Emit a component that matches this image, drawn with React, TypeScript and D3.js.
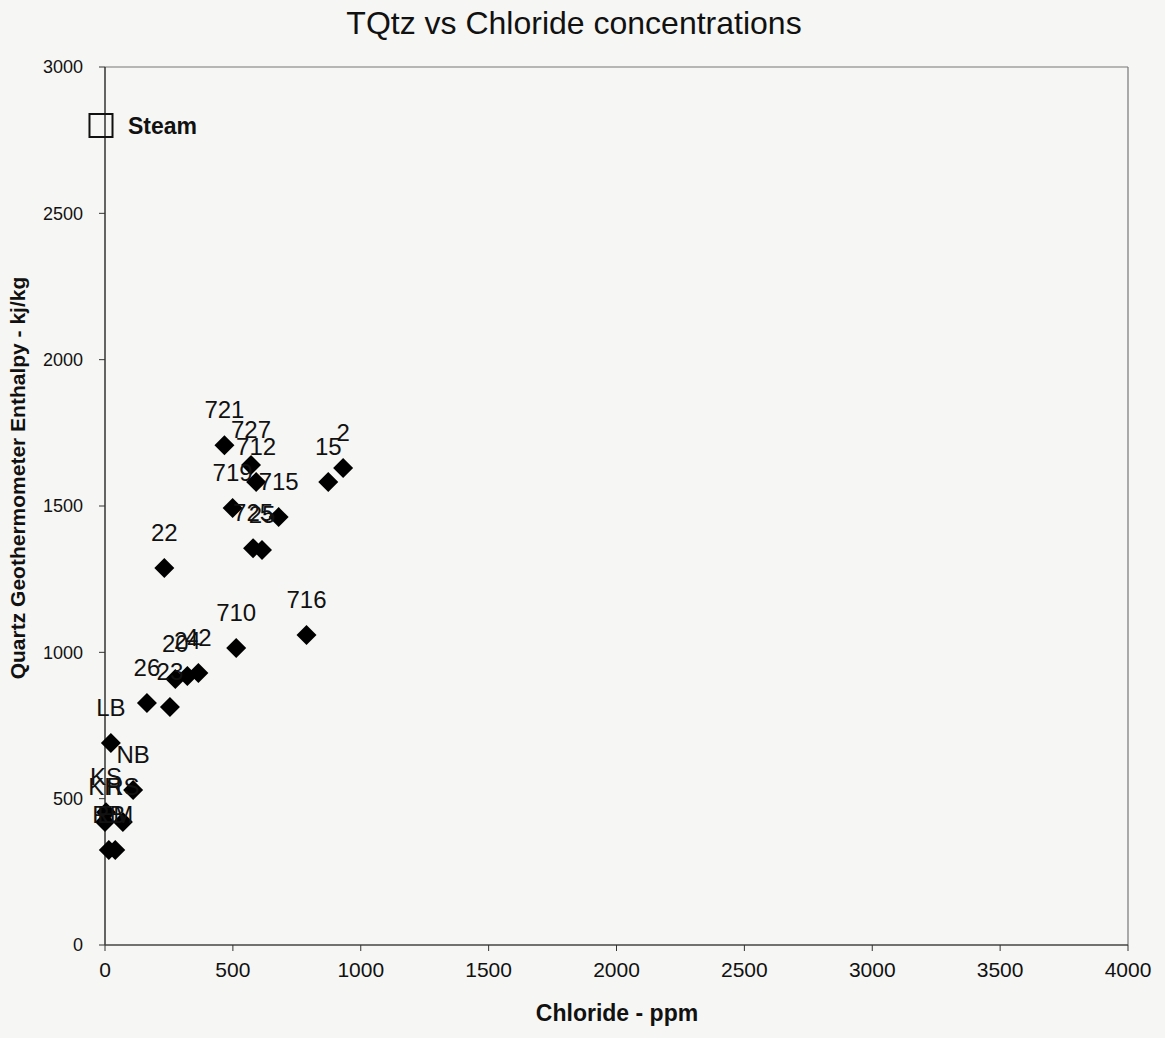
import React from 'react';
import * as d3 from 'd3';

// sample labels and values
const sampleIds = ['721', '727', '712', '719', '715', '725', '25', '15', '2', '22', '716', '710',
  '20', '24', '42', '26', '23', 'LB', 'NB', 'KS', 'KH', 'RS', 'RB', 'EM'];
const chloride = [467, 571, 591, 499, 679, 579, 614, 873, 931, 232, 788, 513,
  275, 322, 365, 164, 254, 23, 110, 4, 0, 70, 15, 40];
const enthalpy = [1708, 1640, 1582, 1493, 1462, 1356, 1350, 1582, 1630, 1288, 1059, 1015,
  909, 919, 929, 827, 813, 690, 530, 454, 420, 420, 325, 325];

const steamChloride = [0];
const steamEnthalpy = [2800];

const xTicks = [0, 500, 1000, 1500, 2000, 2500, 3000, 3500, 4000];
const yTicks = [0, 500, 1000, 1500, 2000, 2500, 3000];

const W = 1165;
const H = 1038;
const margin = { top: 67, right: 37, bottom: 93, left: 105 };

const App = () => {
  const x = d3.scaleLinear().domain([0, 4000]).range([margin.left, W - margin.right]);
  const y = d3.scaleLinear().domain([0, 3000]).range([H - margin.bottom, margin.top]);

  const diamond = d3.symbol().type(d3.symbolSquare).size(200)();
  const square = d3.symbol().type(d3.symbolSquare).size(530)();

  const font = 'Arial, "Liberation Sans", sans-serif';
  const x0 = x(0);
  const y0 = y(0);

  return (
    <svg width={W} height={H} style={{ position: 'absolute', left: 0, top: 0, background: '#f6f6f4' }}
      fontFamily={font}>
      <text x={574} y={34} textAnchor="middle" fontSize={32} fill="#111">
        TQtz vs Chloride concentrations
      </text>

      {/* plot frame */}
      <line x1={x0} x2={x(4000)} y1={y(3000)} y2={y(3000)} stroke="#777" strokeWidth={1.2} />
      <line x1={x(4000)} x2={x(4000)} y1={y(3000)} y2={y0} stroke="#777" strokeWidth={1.2} />
      <line x1={x0} x2={x0} y1={y(3000)} y2={y0} stroke="#333" strokeWidth={1.5} />
      <line x1={x0} x2={x(4000)} y1={y0} y2={y0} stroke="#444" strokeWidth={1.5} />

      {yTicks.map(t => (
        <g key={'y' + t}>
          <line x1={x0 - 6} x2={x0} y1={y(t)} y2={y(t)} stroke="#333" />
          <text x={x0 - 22} y={y(t)} dy="0.35em" textAnchor="end" fontSize={18} fill="#111">{t}</text>
        </g>
      ))}
      {xTicks.map(t => (
        <g key={'x' + t}>
          <line x1={x(t)} x2={x(t)} y1={y0} y2={y0 + 6} stroke="#333" />
          <text x={x(t)} y={y0 + 32} textAnchor="middle" fontSize={21} fill="#111">{t}</text>
        </g>
      ))}

      <text x={617} y={1021} textAnchor="middle" fontSize={23} fontWeight="bold" fill="#111">
        Chloride - ppm
      </text>
      <text transform={`translate(25,478) rotate(-90)`} textAnchor="middle"
        fontSize={21} fontWeight="bold" fill="#111">
        Quartz Geothermometer Enthalpy - kj/kg
      </text>

      {/* steam end member */}
      {steamChloride.map((c, i) => (
        <g key={'s' + i}>
          <path d={square} transform={`translate(${x(c) - 4},${y(steamEnthalpy[i])})`}
            fill="none" stroke="#111" strokeWidth={2} />
          <text x={x(c) + 23} y={y(steamEnthalpy[i])} dy="0.35em" fontSize={23} fontWeight="bold" fill="#111">
            Steam
          </text>
        </g>
      ))}

      {sampleIds.map((id, i) => (
        <path key={'p' + id} d={diamond}
          transform={`translate(${x(chloride[i])},${y(enthalpy[i])}) rotate(45)`} fill="#000" />
      ))}
      {sampleIds.map((id, i) => (
        <text key={'l' + id} x={x(chloride[i])} y={y(enthalpy[i]) - 27} textAnchor="middle"
          fontSize={24} fill="#111">{id}</text>
      ))}
    </svg>
  );
};

export default App;
